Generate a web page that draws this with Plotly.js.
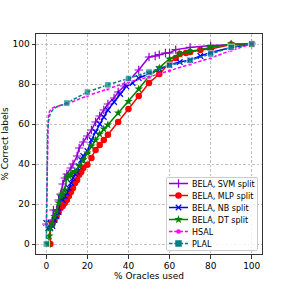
<!DOCTYPE html>
<html><head><meta charset="utf-8">
<script src="https://cdn.plot.ly/plotly-3.0.1.min.js"></script>
<style>html,body{margin:0;padding:0;background:#fff}#chart{width:291px;height:291px}</style>
</head><body><div id="chart"></div>
<script>
const svmX = [0, 1, 2, 3, 3.5, 5, 6, 7, 8, 9, 10, 12, 13, 15, 16, 18, 20, 22, 24, 26, 28, 30, 33, 35, 38, 40, 45, 50, 53, 55, 58, 60, 63, 70, 80, 90, 100];
const svmY = [10, 10, 10, 12, 17, 17, 22, 25, 30, 33, 35, 38, 40, 44, 48, 51, 54, 57, 61, 64, 67, 70, 73, 76, 79, 81.5, 87, 93.5, 94, 94.7, 95.5, 95.5, 97.2, 98.3, 99.2, 99.6, 100];

const mlpX = [2, 2, 3, 4, 5, 6, 7, 8, 9, 10, 11, 12, 13, 14, 15, 16, 17, 18, 20, 22, 24, 26, 28, 30, 35, 40, 45, 50, 55, 60, 63, 65, 68, 70, 75, 80, 90, 100];
const mlpY = [0, 10, 10, 12, 14, 16, 18, 19, 20.5, 22, 24, 26, 28, 30.5, 32, 34.6, 36, 38, 39.6, 43, 47, 49.5, 52, 54.6, 61, 67.5, 74, 80.5, 85, 90.5, 93, 95, 95.5, 96, 97, 97.5, 99.8, 100];

const nbX = [0, 1, 2, 3, 4, 5, 6, 7, 8, 9, 10, 11, 12, 13, 14, 15, 16, 17, 18, 20, 22, 24, 26, 28, 30, 33, 36, 39, 42, 45, 50, 55, 60, 65, 70, 75, 80, 90, 100];
const nbY = [10.5, 8, 8, 9, 12, 13.8, 16, 23, 22, 24, 25.5, 28, 30.5, 33, 35, 36, 38.8, 42, 44, 46.5, 52, 56, 60, 63.5, 67, 71, 75, 78.8, 80.5, 83, 85, 87.5, 89.6, 91, 92, 94, 95.8, 98.3, 100];

const dtX = [1, 1.5, 2, 3, 4, 5, 6, 7, 8, 9, 10, 11, 12, 14, 16, 18, 20, 22, 24, 26, 28, 30, 35, 40, 45, 50, 55, 60, 65, 70, 80, 90, 100];
const dtY = [0, 4, 8, 10, 13.8, 16, 20.5, 24, 25, 27, 33, 34, 35, 36.3, 39, 42, 45.5, 49, 52, 55, 57.5, 59.6, 65.5, 71.3, 77.5, 83.8, 88, 92.5, 95, 96.3, 98.3, 100, 100];

const hsalX = [0, 0.3, 0.6, 0.8, 1, 1.5, 2, 3, 4, 6, 8, 10, 20, 30, 40, 50, 60, 70, 80, 90, 100];
const hsalY = [10, 25, 45, 60, 64, 66, 67, 68, 68.5, 69, 69.5, 70, 74.1, 77.5, 81, 83.5, 86.6, 90, 93, 96.8, 100];
const hsalMarked = [1, 0, 0, 0, 0, 0, 0, 0, 0, 0, 0, 1, 1, 1, 1, 1, 1, 1, 1, 1, 1];

const plalX = [0, 0.2, 0.4, 0.6, 1, 2, 4, 6, 10, 20, 30, 40, 50, 60, 70, 80, 90, 100];
const plalY = [0, 10, 30, 55, 61, 65.6, 68, 69, 70.5, 76, 79.6, 82.8, 86, 89.3, 91.8, 95, 98.3, 100];
const plalMarked = [1, 0, 0, 0, 0, 0, 0, 0, 1, 1, 1, 1, 1, 1, 1, 1, 1, 1];

const names = ['BELA, SVM split', 'BELA, MLP split', 'BELA, NB split', 'BELA, DT split', 'HSAL', 'PLAL'];
const xTicks = [0, 20, 40, 60, 80, 100];
const yTicks = [0, 20, 40, 60, 80, 100];

const font = 'DejaVu Sans, sans-serif';
const dash = '3.5px,1.8px';
const styles = [
  {line: {color: '#9400d3', width: 1.5},
   marker: {symbol: 'cross-thin-open', size: 6, color: '#9400d3', line: {color: '#9400d3', width: 1.2}}},
  {line: {color: 'red', width: 1.5},
   marker: {symbol: 'circle', size: 6.5, color: 'red'}},
  {line: {color: 'blue', width: 1.5},
   marker: {symbol: 'x-thin-open', size: 5.5, color: 'blue', line: {color: 'blue', width: 1.2}}},
  {line: {color: 'green', width: 1.5},
   marker: {symbol: 'star', size: 6.5, color: 'green'}},
  {line: {color: 'magenta', width: 1.5, dash: dash},
   marker: {symbol: 'circle', size: 4.5, color: 'magenta'}},
  {line: {color: '#008080', width: 1.5, dash: dash},
   marker: {symbol: 'square', size: 6.5, color: '#008080'}}
];
const seriesX = [svmX, mlpX, nbX, dtX, hsalX, plalX];
const seriesY = [svmY, mlpY, nbY, dtY, hsalY, plalY];
const marked = [null, null, null, null, hsalMarked, plalMarked];

const traces = [];
seriesX.forEach((xs, i) => {
  const st = JSON.parse(JSON.stringify(styles[i]));
  if (marked[i]) st.marker.size = marked[i].map(m => m ? styles[i].marker.size : 0);
  traces.push({x: xs, y: seriesY[i], name: names[i], mode: 'lines+markers',
    line: st.line, marker: st.marker, showlegend: false});
});
// legend-only entries (no data)
names.forEach((n, i) => {
  traces.push({x: [null], y: [null], name: n, mode: 'lines+markers',
    line: styles[i].line, marker: styles[i].marker, showlegend: true});
});

const axisCommon = {
  showline: true, mirror: true, linecolor: '#333', linewidth: 1,
  ticks: 'outside', ticklen: 3.5, tickwidth: 1, tickcolor: '#333',
  showgrid: true, gridcolor: '#b0b0b0', gridwidth: 0.8, griddash: '2.5px,2px',
  zeroline: false, tickfont: {family: font, size: 9, color: '#000'}
};

const layout = {
  width: 291, height: 291,
  margin: {l: 36, r: 29, t: 34, b: 37},
  paper_bgcolor: '#fff', plot_bgcolor: '#fff',
  showlegend: true,
  legend: {x: 0.978, y: 0.018, xanchor: 'right', yanchor: 'bottom',
    bgcolor: 'rgba(255,255,255,0.8)', bordercolor: '#ccc', borderwidth: 1,
    font: {family: font, size: 8, color: '#000'}, tracegroupgap: 0},
  xaxis: Object.assign({}, axisCommon, {range: [-5, 105], tickvals: xTicks,
    title: {text: '% Oracles used', font: {family: font, size: 9, color: '#000'}, standoff: 2}}),
  yaxis: Object.assign({}, axisCommon, {range: [-5, 105], tickvals: yTicks,
    title: {text: '% Correct labels', font: {family: font, size: 9, color: '#000'}, standoff: 4}})
};

const gd = document.getElementById('chart');
Plotly.newPlot(gd, traces, layout, {staticPlot: true, displayModeBar: false}).then(() => {
  // compact matplotlib-like legend
  const leg = gd.querySelector('.legend');
  if (!leg) return;
  const boxX = 166, boxY = 177, boxW = 91, step = 12;
  const items = leg.querySelectorAll('g.traces');
  const boxH = items.length * step + 1;
  leg.setAttribute('transform', `translate(${boxX},${boxY})`);
  const bg = leg.querySelector('rect.bg');
  if (bg) { bg.setAttribute('x', 0.5); bg.setAttribute('y', 0.5); bg.setAttribute('width', boxW); bg.setAttribute('height', boxH);
    bg.setAttribute('rx', 2); bg.setAttribute('ry', 2); }
  const sb = leg.querySelector('g.scrollbox');
  if (sb) { sb.setAttribute('transform', 'translate(0,0)'); sb.removeAttribute('clip-path'); }
  const grp = leg.querySelector('g.groups');
  if (grp) grp.setAttribute('transform', 'translate(0,0)');
  items.forEach((g, i) => {
    g.setAttribute('transform', `translate(0,${6.5 + i * step})`);
    g.querySelectorAll('.legendlines path').forEach(p => p.setAttribute('d', 'M3,0h19'));
    g.querySelectorAll('.legendpoints path').forEach(p => p.setAttribute('transform', 'translate(12.5,0)'));
    const t = g.querySelector('text.legendtext');
    if (t) { t.setAttribute('x', 26); t.querySelectorAll('tspan').forEach(s => { if (s.hasAttribute('x')) s.setAttribute('x', 26); }); }
  });
});
</script></body></html>
